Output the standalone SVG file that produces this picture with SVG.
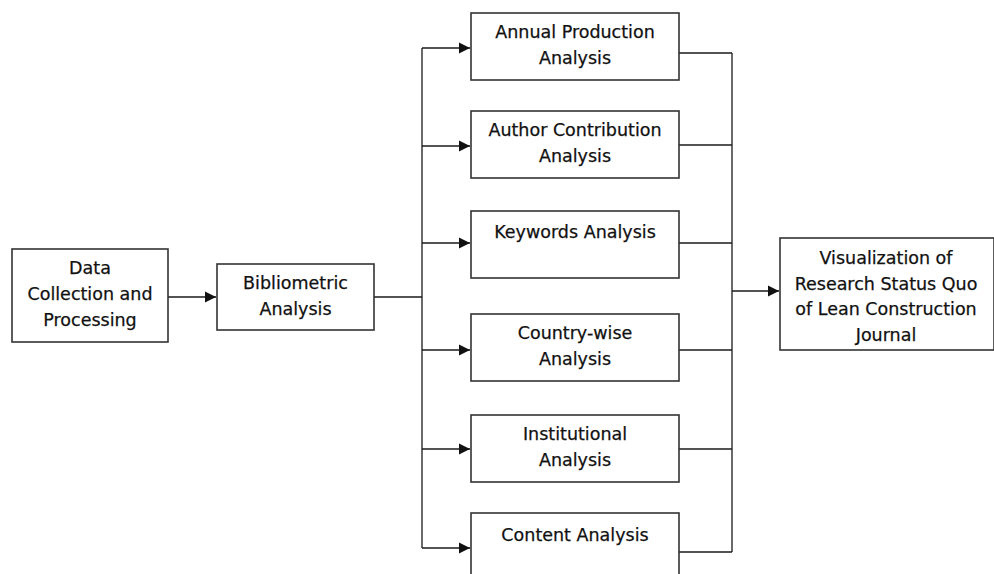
<svg xmlns="http://www.w3.org/2000/svg" width="994" height="574" viewBox="0 0 994 574">
  <style>
    .box { fill: #ffffff; stroke: #333333; stroke-width: 1.6; }
    .wire { fill: none; stroke: #1a1a1a; stroke-width: 1.3; }
    text { font-family: "DejaVu Sans", "Liberation Sans", sans-serif; font-size: 17.5px; fill: #111111; text-anchor: middle; stroke: #111111; stroke-width: 0.25; }
  </style>
  <defs>
    <marker id="arrow" markerWidth="12" markerHeight="12" refX="11" refY="6" orient="auto" markerUnits="userSpaceOnUse">
      <path d="M0,0.5 L11,6 L0,11.5 Z" fill="#111111"/>
    </marker>
  </defs>
  <rect width="994" height="574" fill="#ffffff"/>

  <g id="connectors">
    <line class="wire" x1="168" y1="297" x2="216" y2="297" marker-end="url(#arrow)"/>
    <line class="wire" x1="374" y1="297" x2="422" y2="297"/>
    <line class="wire" x1="422" y1="48" x2="422" y2="548"/>
    <line class="wire" x1="422" y1="48" x2="470" y2="48" marker-end="url(#arrow)"/>
    <line class="wire" x1="422" y1="146" x2="470" y2="146" marker-end="url(#arrow)"/>
    <line class="wire" x1="422" y1="243" x2="470" y2="243" marker-end="url(#arrow)"/>
    <line class="wire" x1="422" y1="350" x2="470" y2="350" marker-end="url(#arrow)"/>
    <line class="wire" x1="422" y1="449" x2="470" y2="449" marker-end="url(#arrow)"/>
    <line class="wire" x1="422" y1="548" x2="470" y2="548" marker-end="url(#arrow)"/>
    <line class="wire" x1="679" y1="53" x2="732" y2="53"/>
    <line class="wire" x1="679" y1="145" x2="732" y2="145"/>
    <line class="wire" x1="679" y1="243" x2="732" y2="243"/>
    <line class="wire" x1="679" y1="350" x2="732" y2="350"/>
    <line class="wire" x1="679" y1="449" x2="732" y2="449"/>
    <line class="wire" x1="679" y1="552" x2="732" y2="552"/>
    <line class="wire" x1="732" y1="53" x2="732" y2="552"/>
    <line class="wire" x1="732" y1="291" x2="779" y2="291" marker-end="url(#arrow)"/>
  </g>

  <g id="data-collection">
    <rect class="box" x="12" y="249" width="156" height="93"/>
    <text x="90" y="274">Data</text>
    <text x="90" y="300">Collection and</text>
    <text x="90" y="326">Processing</text>
  </g>

  <g id="bibliometric">
    <rect class="box" x="217" y="264" width="157" height="66"/>
    <text x="295.5" y="289">Bibliometric</text>
    <text x="295.5" y="315">Analysis</text>
  </g>

  <g id="annual-production">
    <rect class="box" x="471" y="13" width="208" height="67"/>
    <text x="575" y="38">Annual Production</text>
    <text x="575" y="64">Analysis</text>
  </g>

  <g id="author-contribution">
    <rect class="box" x="471" y="111" width="208" height="67"/>
    <text x="575" y="136">Author Contribution</text>
    <text x="575" y="162">Analysis</text>
  </g>

  <g id="keywords">
    <rect class="box" x="471" y="211" width="208" height="67"/>
    <text x="575" y="238">Keywords Analysis</text>
  </g>

  <g id="country-wise">
    <rect class="box" x="471" y="314" width="208" height="67"/>
    <text x="575" y="339">Country-wise</text>
    <text x="575" y="365">Analysis</text>
  </g>

  <g id="institutional">
    <rect class="box" x="471" y="415" width="208" height="67"/>
    <text x="575" y="440">Institutional</text>
    <text x="575" y="466">Analysis</text>
  </g>

  <g id="content">
    <rect class="box" x="471" y="513" width="208" height="70"/>
    <text x="575" y="541">Content Analysis</text>
  </g>

  <g id="visualization">
    <rect class="box" x="780" y="238" width="214" height="112"/>
    <text x="886" y="264">Visualization of</text>
    <text x="886" y="290">Research Status Quo</text>
    <text x="886" y="315">of Lean Construction</text>
    <text x="886" y="341">Journal</text>
  </g>
</svg>
